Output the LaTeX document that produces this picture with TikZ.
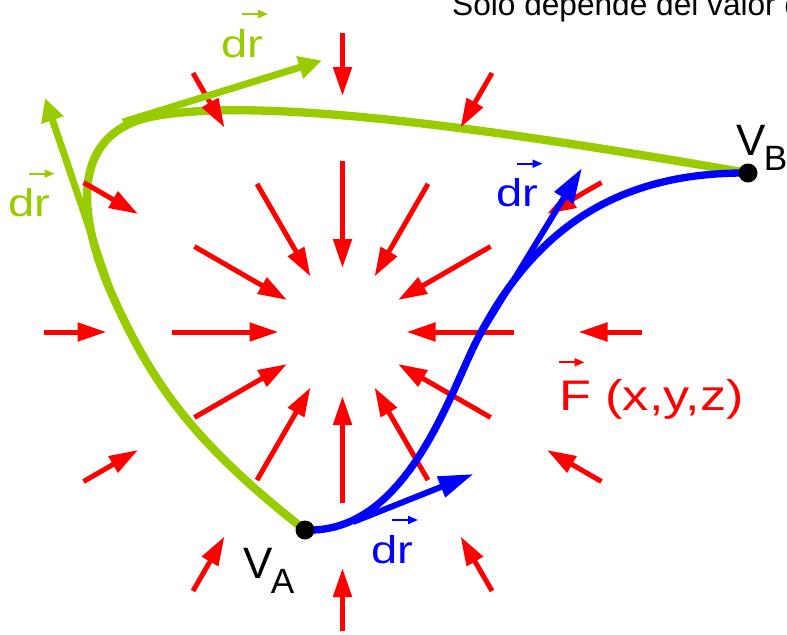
\documentclass[tikz,border=0pt]{standalone}
\usepackage{fontspec}
\setmainfont{Liberation Sans}
\newfontfamily\widesans[FakeStretch=1.22]{Liberation Sans}
\usetikzlibrary{arrows.meta,calc}
\definecolor{pathgreen}{RGB}{153,204,0}
\definecolor{pathblue}{RGB}{0,0,255}
\definecolor{fieldred}{RGB}{255,0,0}
\newcommand{\Vsub}[1]{V\kern-0.5mm\raisebox{-4.5mm}{\fontsize{30pt}{30pt}\selectfont #1}}
\begin{document}
\begin{tikzpicture}[x=0.3mm, y=-0.3mm,
    fieldarrow/.style={draw=fieldred, line width=1.5mm, -{Triangle[length=8.7mm, width=5.4mm]}},
    greenarrow/.style={draw=pathgreen, line width=2.1mm, -{Triangle[length=7mm, width=6.6mm]}},
    bluearrow/.style={draw=pathblue, line width=1.8mm, -{Triangle[length=10.5mm, width=6.3mm]}},
    vecarrow/.style={line width=0.6mm, -{Triangle[length=3mm, width=2.4mm]}},
    drlabel/.style={anchor=base west, inner sep=0pt, font=\widesans\fontsize{33pt}{33pt}\selectfont},
    enddot/.style={circle, fill=black, inner sep=0pt, minimum size=5.7mm}]
  \useasboundingbox (0,0) rectangle (787,634);

  % Heading, cut by the border
  \node[anchor=base west, inner sep=0pt, font=\fontsize{27pt}{27pt}\selectfont] (heading) at (452,15) {Solo depende del valor de};

  % End points
  \coordinate (VA) at (305,530);
  \coordinate (VB) at (748,173);

  % Green path
  \draw[pathgreen, line width=2.5mm] (VA) .. controls (190,440) and (150,380) .. (110,290)
      .. controls (78,215) and (70,135) .. (150,117)
      .. controls (260,95) and (500,130) .. (VB);

  % Field F(x,y,z)
  \coordinate (O) at (342.5,332);
  \foreach \a in {0,30,...,330} {
      \draw[fieldarrow] ($(O)+(\a:171)$) -- ($(O)+(\a:64)$);
      \draw[fieldarrow] ($(O)+(\a:299)$) -- ($(O)+(\a:236)$);
    }

  % dr on the green path
  \coordinate (g1) at (113,298);
  \coordinate (g2) at (123,122);
  \draw[greenarrow] (g1) -- (45,98);
  \draw[greenarrow] (g2) -- (322,60.5);

  % Blue path
  \coordinate (M) at (476,342);
  \draw[pathblue, line width=2.2mm] (VA) .. controls (405,534) and (448,398) .. (M)
      .. controls (534.5,226.3) and (620,172) .. (VB);

  % dr on the blue path
  \coordinate (b1) at (353,522);
  \coordinate (b2) at (474,345);
  \draw[bluearrow] (b1) -- (473.5,474);
  \draw[bluearrow] (b2) -- (582,168);

  % Labels
  \node[drlabel, text=pathgreen] (gdr1) at (221.5,57) {dr};
  \node[drlabel, text=pathgreen] (gdr2) at (8,216.7) {dr};
  \node[drlabel, text=pathblue] (bdr1) at (496,206.7) {dr};
  \node[drlabel, text=pathblue] (bdr2) at (371.5,563) {dr};
  \foreach \n/\c in {gdr1/pathgreen, gdr2/pathgreen, bdr1/pathblue, bdr2/pathblue} {
      \draw[vecarrow, \c] ($(\n.base west)+(20.5,-43)$) -- +(26,0);
    }
  \node[anchor=base west, inner sep=0pt, text=fieldred, font=\widesans\fontsize{36.5pt}{36.5pt}\selectfont] (Flbl) at (559,410) {F (x,y,z)};
  \draw[vecarrow, fieldred] ($(Flbl.base west)+(0,-47.7)$) -- +(25.5,0);

  \node[anchor=base west, inner sep=0pt, font=\fontsize{37.5pt}{37.5pt}\selectfont] (VAlbl) at (243,578) {\Vsub{A}};
  \node[anchor=base west, inner sep=0pt, font=\fontsize{37.5pt}{37.5pt}\selectfont] (VBlbl) at (736,155) {\Vsub{B}};

  % Dots
  \node[enddot] (VAdot) at (VA) {};
  \node[enddot] (VBdot) at (VB) {};
\end{tikzpicture}
\end{document}
